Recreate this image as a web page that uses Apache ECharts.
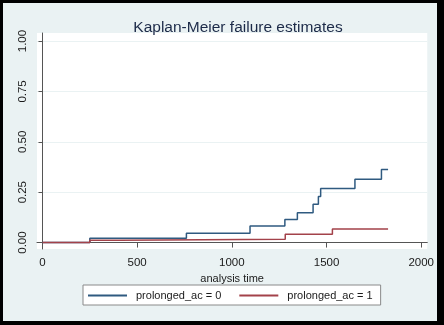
<!DOCTYPE html>
<html>

<head>
    <meta charset="utf-8">
    <script src="https://cdn.jsdelivr.net/npm/echarts@6/dist/echarts.min.js"></script>
    <style>
        html, body { margin: 0; padding: 0; background: #000; }
        #main { position: absolute; left: 3px; top: 3px; width: 434px; height: 318px; }
    </style>
</head>

<body>
    <div id="main"></div>
    <script type="text/javascript">
        // step points: [analysis time, failure estimate after the step]
        var group0 = [[0, 0], [250, 0.021], [760, 0.046], [1096, 0.082], [1280, 0.115], [1346, 0.148],
            [1429, 0.19], [1457, 0.228], [1469, 0.268], [1650, 0.314], [1790, 0.362], [1825, 0.362]];
        var group1 = [[0, 0], [250, 0.011], [403, 0.017], [1282, 0.041], [1531, 0.067], [1825, 0.067]];
        var xTicks = [0, 500, 1000, 1500, 2000];
        var yTicks = [0, 0.25, 0.5, 0.75, 1];

        var chart = echarts.init(document.getElementById('main'));
        var font = 'Liberation Sans, Arial, sans-serif';

        chart.setOption({
            backgroundColor: '#eaf2f3',
            animation: false,
            title: {
                text: 'Kaplan-Meier failure estimates',
                left: 230,
                top: 12,
                textAlign: 'center',
                textStyle: { fontFamily: font, fontSize: 15.5, fontWeight: 'normal', color: '#1c2a48' }
            },
            grid: {
                left: 34, right: 9, top: 30, bottom: 72,
                show: true, backgroundColor: '#fff', borderWidth: 0
            },
            legend: {
                left: 80, top: 282,
                padding: [5, 8, 4, 5],
                itemGap: 18,
                itemWidth: 39,
                itemHeight: 2,
                icon: 'rect',
                backgroundColor: '#fff',
                borderColor: '#8a8a8a',
                borderWidth: 1,
                textStyle: { fontFamily: font, fontSize: 11, color: '#1a1a1a', padding: [0, 0, 0, 4] },
                data: ['prolonged_ac = 0', 'prolonged_ac = 1']
            },
            xAxis: {
                type: 'value',
                min: -29, max: 2032,
                name: 'analysis time',
                nameLocation: 'middle',
                nameGap: 21,
                nameTextStyle: { fontFamily: font, fontSize: 11, color: '#1a1a1a' },
                axisLine: { lineStyle: { color: '#555', width: 1 } },
                axisTick: { length: 5, customValues: xTicks, lineStyle: { color: '#555' } },
                axisLabel: {
                    customValues: xTicks, margin: 8, fontFamily: font, fontSize: 11.5, color: '#1a1a1a',
                    formatter: function (v) { return String(v); }
                },
                splitLine: { show: false }
            },
            yAxis: {
                type: 'value',
                min: -0.032, max: 1.04,
                axisLine: { show: true, lineStyle: { color: '#555', width: 1 } },
                axisTick: { show: true, length: 4, customValues: yTicks, lineStyle: { color: '#555' } },
                axisLabel: {
                    customValues: yTicks, rotate: 90, margin: 8,
                    fontFamily: font, fontSize: 11.5, color: '#1a1a1a',
                    formatter: function (v) { return v.toFixed(2); }
                },
                splitLine: { show: true, lineStyle: { color: '#eaf2f3', width: 1 } }
            },
            series: [
                {
                    name: 'prolonged_ac = 0',
                    type: 'line',
                    step: 'end',
                    symbol: 'none',
                    color: '#2f5a80',
                    lineStyle: { width: 1.5 },
                    data: group0
                },
                {
                    name: 'prolonged_ac = 1',
                    type: 'line',
                    step: 'end',
                    symbol: 'none',
                    color: '#a3424a',
                    lineStyle: { width: 1.5 },
                    data: group1
                }
            ]
        });
    </script>
</body>

</html>
